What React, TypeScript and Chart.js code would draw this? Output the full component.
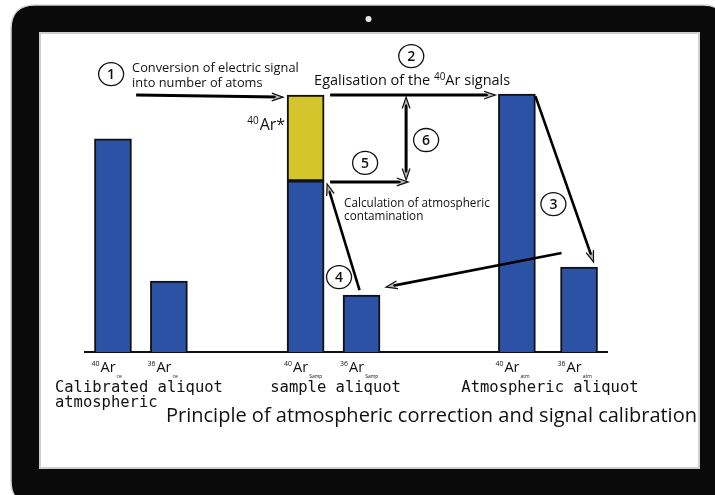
import React, { useEffect, useRef } from "react";
import { Chart, registerables } from "chart.js";

Chart.register(...registerables);

// ---- data ----
const SLOT_COUNT = 84;
const barSlots = [4, 13, 35, 44, 69, 79];
const isotopes = ["40", "36", "40", "36", "40", "36"];
const subscripts = ["ce", "ce", "Samp", "Samp", "atm", "atm"];
const atmosphericValues = [82, 27.3, 65.8, 21.9, 99.2, 32.7];
const radiogenicValues = [0, 0, 33, 0, 0, 0];
const groupLines = [["Calibrated aliquot", "atmospheric"], ["sample aliquot"], ["Atmospheric aliquot"]];
const titleText = "Principle of atmospheric correction and signal calibration";
const step1Text = ["Conversion of electric signal", "into number of atoms"];
const step2Text = ["Egalisation of the ", "40", "Ar signals"];
const step5Text = ["Calculation of atmospheric", "contamination"];
const radiogenicLabel = ["40", "Ar*"];

const BLUE = "#2b52a4";
const YELLOW = "#d3c52b";
const SANS = '"Open Sans", "Noto Sans", sans-serif';
const MONO = '"DejaVu Sans Mono", monospace';

const slotLabels = Array.from({ length: SLOT_COUNT }, (_, i) => {
  const k = barSlots.indexOf(i);
  return k >= 0 ? isotopes[k] + "Ar " + subscripts[k] : "";
});
const blueData = Array.from({ length: SLOT_COUNT }, (_, i) => {
  const k = barSlots.indexOf(i);
  return k >= 0 ? atmosphericValues[k] : null;
});
const yellowData = Array.from({ length: SLOT_COUNT }, (_, i) => {
  const k = barSlots.indexOf(i);
  return k >= 0 && radiogenicValues[k] > 0 ? radiogenicValues[k] : null;
});

function roundRect(ctx: CanvasRenderingContext2D, x: number, y: number, w: number, h: number, r: number) {
  ctx.beginPath();
  ctx.moveTo(x + r, y);
  ctx.lineTo(x + w - r, y);
  ctx.quadraticCurveTo(x + w, y, x + w, y + r);
  ctx.lineTo(x + w, y + h - r);
  ctx.quadraticCurveTo(x + w, y + h, x + w - r, y + h);
  ctx.lineTo(x + r, y + h);
  ctx.quadraticCurveTo(x, y + h, x, y + h - r);
  ctx.lineTo(x, y + r);
  ctx.quadraticCurveTo(x, y, x + r, y);
  ctx.closePath();
}

function drawHead(ctx: CanvasRenderingContext2D, x1: number, y1: number, x2: number, y2: number) {
  const a = Math.atan2(y2 - y1, x2 - x1);
  const L = 12;
  const s = 0.33;
  const p1x = x2 - L * Math.cos(a - s), p1y = y2 - L * Math.sin(a - s);
  const p2x = x2 - L * Math.cos(a + s), p2y = y2 - L * Math.sin(a + s);
  const mx = x2 - 7 * Math.cos(a), my = y2 - 7 * Math.sin(a);
  ctx.fillStyle = "#b8b8b8";
  ctx.beginPath();
  ctx.moveTo(x2, y2);
  ctx.lineTo(p1x, p1y);
  ctx.lineTo(mx, my);
  ctx.lineTo(p2x, p2y);
  ctx.closePath();
  ctx.fill();
  ctx.strokeStyle = "#111";
  ctx.lineWidth = 1.2;
  ctx.beginPath();
  ctx.moveTo(p1x, p1y);
  ctx.lineTo(x2, y2);
  ctx.lineTo(p2x, p2y);
  ctx.stroke();
}

function arrow(ctx: CanvasRenderingContext2D, x1: number, y1: number, x2: number, y2: number, lw: number, both = false) {
  const a = Math.atan2(y2 - y1, x2 - x1);
  const cut = 5;
  const ex = x2 - cut * Math.cos(a), ey = y2 - cut * Math.sin(a);
  const sx = both ? x1 + cut * Math.cos(a) : x1, sy = both ? y1 + cut * Math.sin(a) : y1;
  ctx.save();
  ctx.strokeStyle = "#000";
  ctx.lineWidth = lw;
  ctx.beginPath();
  ctx.moveTo(sx, sy);
  ctx.lineTo(ex, ey);
  ctx.stroke();
  drawHead(ctx, x1, y1, x2, y2);
  if (both) drawHead(ctx, x2, y2, x1, y1);
  ctx.restore();
}

function circled(ctx: CanvasRenderingContext2D, cx: number, cy: number, n: string) {
  ctx.save();
  ctx.strokeStyle = "#111";
  ctx.lineWidth = 1.3;
  ctx.beginPath();
  ctx.ellipse(cx, cy, 12.5, 11.5, 0, 0, Math.PI * 2);
  ctx.fillStyle = "#fff";
  ctx.fill();
  ctx.stroke();
  ctx.fillStyle = "#111";
  ctx.font = "600 14px " + SANS;
  ctx.textAlign = "center";
  ctx.textBaseline = "middle";
  ctx.fillText(n, cx, cy + 1);
  ctx.restore();
}

const framePlugin = {
  id: "frame",
  beforeDraw(chart: any) {
    const ctx: CanvasRenderingContext2D = chart.ctx;
    const ca = chart.chartArea;
    ctx.save();
    ctx.fillStyle = "#fff";
    ctx.fillRect(0, 0, chart.width, chart.height);
    // tablet body
    roundRect(ctx, ca.left - 74, ca.top - 87, chart.width - (ca.left - 74) + 12, chart.height - (ca.top - 87) + 10, 24);
    ctx.fillStyle = "#0a0a0a";
    ctx.fill();
    ctx.strokeStyle = "#d6d6d6";
    ctx.lineWidth = 1.5;
    ctx.stroke();
    // screen
    const sx = ca.left - 45, sy = ca.top - 59, sw = 659, sh = 435;
    ctx.fillStyle = "#cfcfcf";
    ctx.fillRect(sx - 1, sy - 1, sw + 2, sh + 2);
    ctx.fillStyle = "#fff";
    ctx.fillRect(sx + 1, sy + 1, sw - 2, sh - 2);
    // camera
    ctx.beginPath();
    ctx.arc(sx + sw / 2 - 1, ca.top - 73, 3, 0, Math.PI * 2);
    ctx.fillStyle = "#e8e8e8";
    ctx.fill();
    ctx.restore();
  },
  afterDraw(chart: any) {
    const ctx: CanvasRenderingContext2D = chart.ctx;
    const ca = chart.chartArea;
    const blueMeta = chart.getDatasetMeta(0);
    const yellowMeta = chart.getDatasetMeta(1);
    const bar = (k: number) => {
      const el = blueMeta.data[barSlots[k]];
      const p = el.getProps(["x", "y", "base", "width"], true);
      return { x: p.x, top: p.y, left: p.x - p.width / 2, right: p.x + p.width / 2, w: p.width };
    };
    const b = [0, 1, 2, 3, 4, 5].map(bar);
    const yel = yellowMeta.data[barSlots[2]].getProps(["y"], true).y;
    ctx.save();

    // tick labels
    for (let k = 0; k < 6; k++) {
      const x0 = b[k].left - 3;
      const baseY = ca.bottom + 20;
      ctx.fillStyle = "#111";
      ctx.textAlign = "left";
      ctx.textBaseline = "alphabetic";
      ctx.font = "7px " + SANS;
      ctx.fillText(isotopes[k], x0, baseY - 6);
      const sw = ctx.measureText(isotopes[k]).width;
      ctx.font = "14.5px " + SANS;
      ctx.fillText("Ar", x0 + sw + 1, baseY);
      const aw = ctx.measureText("Ar").width;
      ctx.font = "5px " + SANS;
      ctx.fillText(subscripts[k], x0 + sw + 1 + aw + 1, baseY + 6);
    }

    // group labels
    ctx.font = "15.5px " + MONO;
    ctx.fillStyle = "#111";
    ctx.textBaseline = "alphabetic";
    for (let g = 0; g < 3; g++) {
      const cx = (b[2 * g].x + b[2 * g + 1].x) / 2;
      const lines = groupLines[g];
      const w0 = ctx.measureText(lines[0]).width;
      const left = cx - w0 / 2 + (g === 0 ? -2 : 2);
      ctx.textAlign = "left";
      lines.forEach((ln, i) => ctx.fillText(ln, left, ca.bottom + 40 + i * 15));
    }

    // title
    ctx.font = "20px " + SANS;
    ctx.textAlign = "left";
    ctx.fillText(titleText, ca.left + 81, ca.bottom + 70);

    // step 1
    arrow(ctx, b[2].left - 151, yel, b[2].left - 4, yel + 2, 3);
    circled(ctx, b[2].left - 176, yel - 21, "1");
    ctx.font = "12.8px " + SANS;
    ctx.textAlign = "left";
    ctx.fillStyle = "#111";
    ctx.fillText(step1Text[0], b[2].left - 155, yel - 23);
    ctx.fillText(step1Text[1], b[2].left - 155, yel - 8);

    // step 2
    arrow(ctx, b[2].right + 6, yel, b[4].left - 3, yel, 3);
    circled(ctx, (b[2].right + b[4].left) / 2 + 0, yel - 39, "2");
    {
      let x = b[2].right - 10;
      const y = yel - 10;
      ctx.font = "14.5px " + SANS;
      ctx.fillText(step2Text[0], x, y);
      x += ctx.measureText(step2Text[0]).width;
      ctx.font = "10px " + SANS;
      ctx.fillText(step2Text[1], x, y - 5);
      x += ctx.measureText(step2Text[1]).width;
      ctx.font = "14.5px " + SANS;
      ctx.fillText(step2Text[2], x, y);
    }

    // 40Ar* label
    {
      const y = (yel + b[2].top) / 2 - 8;
      ctx.font = "16px " + SANS;
      const w2 = ctx.measureText(radiogenicLabel[1]).width;
      ctx.font = "10px " + SANS;
      const w1 = ctx.measureText(radiogenicLabel[0]).width;
      const xr = b[2].left - 2;
      ctx.fillText(radiogenicLabel[0], xr - w2 - w1 - 1, y - 6);
      ctx.font = "16px " + SANS;
      ctx.fillText(radiogenicLabel[1], xr - w2, y);
    }

    // step 5 and 6
    const vx = b[2].right + 82;
    arrow(ctx, b[2].right + 6, b[2].top + 1, vx + 2, b[2].top + 1, 3);
    circled(ctx, b[2].right + 41, b[2].top - 18, "5");
    arrow(ctx, vx, yel + 2, vx, b[2].top - 1, 3, true);
    circled(ctx, vx + 20, (yel + b[2].top) / 2 + 2, "6");
    ctx.font = "11.7px " + SANS;
    ctx.fillStyle = "#111";
    ctx.textAlign = "left";
    ctx.fillText(step5Text[0], b[2].right + 20, b[2].top + 26);
    ctx.fillText(step5Text[1], b[2].right + 20, b[2].top + 39);

    // step 3
    arrow(ctx, b[4].right, b[4].top + 2, b[5].right - 4, b[5].top - 5, 2.6);
    circled(ctx, b[4].right + 18, b[4].top + 110, "3");

    // return arrow atm -> sample aliquot
    arrow(ctx, b[5].left + 1, b[5].top - 14, b[3].right + 6, b[3].top - 8, 2.6);

    // step 4
    arrow(ctx, b[3].x - 2, b[3].top - 5, b[2].right + 3, b[2].top + 3, 2.6);
    circled(ctx, b[3].left - 4, b[3].top - 18, "4");

    ctx.restore();
  },
};

export default function App() {
  const ref = useRef<HTMLCanvasElement | null>(null);
  useEffect(() => {
    if (!ref.current) return;
    const chart = new Chart(ref.current, {
      type: "bar",
      data: {
        labels: slotLabels,
        datasets: [
          {
            label: "Atmospheric 40Ar / 36Ar",
            data: blueData,
            backgroundColor: BLUE,
            borderColor: "#111",
            borderWidth: 2,
            borderSkipped: "bottom",
            barThickness: 37,
          },
          {
            label: "40Ar*",
            data: yellowData,
            backgroundColor: YELLOW,
            borderColor: "#111",
            borderWidth: 2,
            borderSkipped: false,
            barThickness: 37,
          },
        ],
      },
      options: {
        responsive: false,
        animation: false,
        layout: { padding: { left: 85, right: 108, top: 92, bottom: 143 } },
        plugins: { legend: { display: false }, tooltip: { enabled: false }, title: { display: false } },
        scales: {
          x: {
            stacked: true,
            grid: { display: false, drawTicks: false },
            ticks: { display: false },
            border: { display: true, color: "#111", width: 2 },
          },
          y: {
            stacked: true,
            display: false,
            min: 0,
            max: 100,
          },
        },
      },
      plugins: [framePlugin],
    });
    return () => chart.destroy();
  }, []);
  return (
    <div style={{ position: "absolute", left: 0, top: 0, width: 715, height: 495 }}>
      <canvas ref={ref} width={715} height={495} style={{ display: "block" }} />
    </div>
  );
}
